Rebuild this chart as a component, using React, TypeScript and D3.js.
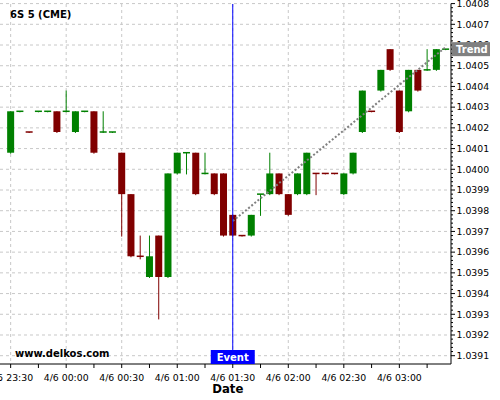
import React from "react";
import * as d3 from "d3";

const title = "6S 5 (CME)";
const watermark = "www.delkos.com";

const times = [
  "2024-04-05T23:30", "2024-04-05T23:35", "2024-04-05T23:40", "2024-04-05T23:45", "2024-04-05T23:50", "2024-04-05T23:55",
  "2024-04-06T00:00", "2024-04-06T00:05", "2024-04-06T00:10", "2024-04-06T00:15", "2024-04-06T00:20", "2024-04-06T00:25",
  "2024-04-06T00:30", "2024-04-06T00:35", "2024-04-06T00:40", "2024-04-06T00:45", "2024-04-06T00:50", "2024-04-06T00:55",
  "2024-04-06T01:00", "2024-04-06T01:05", "2024-04-06T01:10", "2024-04-06T01:15", "2024-04-06T01:20", "2024-04-06T01:25",
  "2024-04-06T01:30", "2024-04-06T01:35", "2024-04-06T01:40", "2024-04-06T01:45", "2024-04-06T01:50", "2024-04-06T01:55",
  "2024-04-06T02:00", "2024-04-06T02:05", "2024-04-06T02:10", "2024-04-06T02:15", "2024-04-06T02:20", "2024-04-06T02:25",
  "2024-04-06T02:30", "2024-04-06T02:35", "2024-04-06T02:40", "2024-04-06T02:45", "2024-04-06T02:50", "2024-04-06T02:55",
  "2024-04-06T03:00", "2024-04-06T03:05", "2024-04-06T03:10", "2024-04-06T03:15", "2024-04-06T03:20", "2024-04-06T03:25",
];

const opens = [
  1.04008, 1.04028, 1.04018, 1.04028, 1.04028, 1.04028,
  1.04028, 1.04018, 1.04028, 1.04028, 1.04018, 1.04018,
  1.04008, 1.03988, 1.03958, 1.03948, 1.03968, 1.03948,
  1.03998, 1.04008, 1.04008, 1.03998, 1.03998, 1.03998,
  1.03978, 1.03968, 1.03968, 1.03988, 1.03988, 1.03998,
  1.03988, 1.03988, 1.03988, 1.03998, 1.03998, 1.03998,
  1.03988, 1.03998, 1.04018, 1.04028, 1.04038, 1.04058,
  1.04038, 1.04028, 1.04048, 1.04048, 1.04048, 1.04058,
];

const highs = [
  1.04028, 1.04028, 1.04018, 1.04028, 1.04028, 1.04028,
  1.04038, 1.04028, 1.04028, 1.04028, 1.04028, 1.04018,
  1.04008, 1.03988, 1.03968, 1.03968, 1.03968, 1.03998,
  1.04008, 1.04008, 1.04008, 1.04008, 1.03998, 1.03998,
  1.03978, 1.03968, 1.03978, 1.03988, 1.04008, 1.03998,
  1.03988, 1.03998, 1.04008, 1.03998, 1.03998, 1.03998,
  1.03998, 1.04008, 1.04038, 1.04028, 1.04048, 1.04058,
  1.04038, 1.04048, 1.04048, 1.04058, 1.04058, 1.04058,
];

const lows = [
  1.04008, 1.04028, 1.04018, 1.04028, 1.04028, 1.04018,
  1.04028, 1.04018, 1.04028, 1.04008, 1.04018, 1.04018,
  1.03968, 1.03958, 1.03957, 1.03948, 1.03928, 1.03948,
  1.03998, 1.03998, 1.03988, 1.03998, 1.03988, 1.03968,
  1.03968, 1.03968, 1.03968, 1.03978, 1.03988, 1.03988,
  1.03978, 1.03988, 1.03988, 1.03988, 1.03998, 1.03998,
  1.03988, 1.03998, 1.04018, 1.04028, 1.04038, 1.04048,
  1.04018, 1.04028, 1.04038, 1.04048, 1.04048, 1.04058,
];

const closes = [
  1.04028, 1.04028, 1.04018, 1.04028, 1.04028, 1.04018,
  1.04028, 1.04028, 1.04028, 1.04008, 1.04018, 1.04018,
  1.03988, 1.03958, 1.03958, 1.03958, 1.03948, 1.03998,
  1.04008, 1.04008, 1.03988, 1.03998, 1.03988, 1.03968,
  1.03968, 1.03968, 1.03978, 1.03988, 1.03998, 1.03988,
  1.03978, 1.03998, 1.04008, 1.03998, 1.03998, 1.03998,
  1.03998, 1.04008, 1.04038, 1.04028, 1.04048, 1.04048,
  1.04018, 1.04048, 1.04038, 1.04048, 1.04058, 1.04058,
];

const yTicks = [
  1.0391, 1.0392, 1.0393, 1.0394, 1.0395, 1.0396, 1.0397, 1.0398, 1.0399,
  1.04, 1.0401, 1.0402, 1.0403, 1.0404, 1.0405, 1.0406, 1.0407, 1.0408,
];

const eventTime = "2024-04-06T01:30";
const eventLabel = "Event";
const trendStart = { time: "2024-04-06T01:30", value: 1.03975 };
const trendEnd = { time: "2024-04-06T03:25", value: 1.04059 };
const trendLabel = "Trend";
const xLabel = "Date";

const parse = (s: string) => new Date(s + ":00Z");

const GREEN = "#008000";
const RED = "#800000";
const GRID = "#c8c8c8";
const FONT = "DejaVu Sans, Verdana, sans-serif";

export default function App() {
  const W = 500;
  const H = 400;
  const left = 0;
  const right = 451;
  const top = 4;
  const bottom = 364;

  const t0 = parse(times[0]).getTime();
  const x = d3
    .scaleUtc()
    .domain([new Date(t0 - 5.75 * 60000), new Date(t0 + 237.9 * 60000)])
    .range([left, right]);
  const y = d3.scaleLinear().domain([1.0391, 1.0407]).range([355.7, 24.3]);

  const fmt = d3.utcFormat("%-m/%-d %H:%M");
  const majorTicks = d3.utcMinute.every(30)!.range(new Date(t0), x.domain()[1]);
  const minorTicks = d3.utcMinute.every(15)!.range(new Date(t0), x.domain()[1]);

  const yMinor: number[] = [];
  yTicks.forEach((v, i) => {
    if (i < yTicks.length - 1) {
      for (let k = 1; k < 5; k++) yMinor.push(v + k * 0.00002);
    }
  });

  // colours: up/down by open-close, ties by previous close, then previous colour
  const colors: string[] = [];
  closes.forEach((c, i) => {
    const o = opens[i];
    let col: string;
    if (c > o + 1e-9) col = GREEN;
    else if (c < o - 1e-9) col = RED;
    else if (i > 0 && c > closes[i - 1] + 1e-9) col = GREEN;
    else if (i > 0 && c < closes[i - 1] - 1e-9) col = RED;
    else col = i > 0 ? colors[i - 1] : GREEN;
    colors.push(col);
  });

  const cw = 7;
  const ex = x(parse(eventTime));
  const trendLine = d3
    .line<{ time: string; value: number }>()
    .x((d) => x(parse(d.time)))
    .y((d) => y(d.value));
  const labelY = y(closes[closes.length - 1]);

  return (
    <svg
      width={W}
      height={H}
      style={{ position: "absolute", left: 0, top: 0, background: "#fff" }}
      fontFamily={FONT}
    >
      <rect x={0} y={0} width={W} height={H} fill="#fff" />
      {/* grid */}
      {yTicks.map((v) => (
        <line key={"gy" + v} x1={left} x2={right} y1={y(v)} y2={y(v)} stroke={GRID} strokeDasharray="3,3" />
      ))}
      {majorTicks.map((t) => (
        <line key={"gx" + t.getTime()} x1={x(t)} x2={x(t)} y1={top} y2={bottom} stroke={GRID} strokeDasharray="3,3" />
      ))}

      {/* candles */}
      {times.map((t, i) => {
        const cx = x(parse(t));
        const o = y(opens[i]);
        const c = y(closes[i]);
        const yTop = Math.min(o, c);
        const h = Math.max(Math.abs(o - c), 1.5);
        return (
          <g key={"c" + i}>
            <line x1={cx} x2={cx} y1={y(highs[i])} y2={y(lows[i]) + 1} stroke={colors[i]} strokeWidth={1} />
            <rect x={cx - cw / 2} y={Math.abs(o - c) < 1 ? yTop - 0.75 : yTop} width={cw} height={h} fill={colors[i]} />
          </g>
        );
      })}

      {/* trend */}
      <path d={trendLine([trendStart, trendEnd]) || ""} stroke="#808080" strokeWidth={2} strokeDasharray="2,2" fill="none" />

      {/* event line */}
      <line x1={ex} x2={ex} y1={top} y2={bottom} stroke="#0000ff" strokeWidth={1} />

      {/* axes */}
      <line x1={left} x2={right} y1={bottom} y2={bottom} stroke="#000" strokeWidth={1} />
      <line x1={right} x2={right} y1={top} y2={bottom} stroke="#000" strokeWidth={1} />
      {minorTicks.map((t) => (
        <line key={"tx" + t.getTime()} x1={x(t)} x2={x(t)} y1={bottom} y2={bottom + 4} stroke="#000" />
      ))}
      {majorTicks.map((t) => (
        <text key={"lx" + t.getTime()} x={x(t)} y={380.5} fontSize={9.33} textAnchor="middle" fill="#000">
          {fmt(t)}
        </text>
      ))}
      {yMinor.map((v, i) => (
        <line key={"ym" + i} x1={right} x2={right + 2} y1={y(v)} y2={y(v)} stroke="#000" />
      ))}
      {yTicks.map((v) => (
        <g key={"ty" + v}>
          <line x1={right} x2={right + 4} y1={y(v)} y2={y(v)} stroke="#000" />
          <text x={456.5} y={y(v)} dy="0.35em" fontSize={9.33} fill="#000">
            {v.toFixed(4)}
          </text>
        </g>
      ))}

      {/* labels */}
      <text x={10} y={18} fontSize={10} fontWeight="bold" fill="#000">
        {title}
      </text>
      <text x={15} y={357} fontSize={10} fontWeight="bold" fill="#000">
        {watermark}
      </text>
      <text x={227.8} y={392.7} fontSize={11.7} fontWeight="bold" textAnchor="middle" fill="#000">
        {xLabel}
      </text>

      <rect x={ex - 22} y={350} width={44} height={14} fill="#0000ff" />
      <text x={ex} y={360.7} fontSize={10} fontWeight="bold" textAnchor="middle" fill="#fff">
        {eventLabel}
      </text>

      <rect x={452} y={labelY - 7} width={38} height={14} fill="#808080" />
      <text x={456} y={labelY + 3.8} fontSize={10} fontWeight="bold" fill="#fff">
        {trendLabel}
      </text>
    </svg>
  );
}
